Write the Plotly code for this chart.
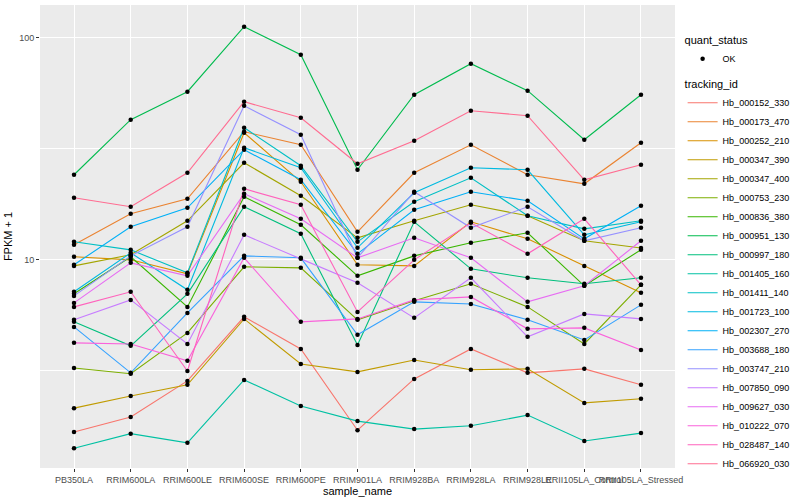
import plotly.graph_objects as go

samples = ["PB350LA", "RRIM600LA", "RRIM600LE", "RRIM600SE", "RRIM600PE", "RRIM901LA",
           "RRIM928BA", "RRIM928LA", "RRIM928LE", "RRII105LA_Control", "RRII105LA_Stressed"]

tracking_ids = ["Hb_000152_330", "Hb_000173_470", "Hb_000252_210", "Hb_000347_390",
                "Hb_000347_400", "Hb_000753_230", "Hb_000836_380", "Hb_000951_130",
                "Hb_000997_180", "Hb_001405_160", "Hb_001411_140", "Hb_001723_100",
                "Hb_002307_270", "Hb_003688_180", "Hb_003747_210", "Hb_007850_090",
                "Hb_009627_030", "Hb_010222_070", "Hb_028487_140", "Hb_066920_030"]

colors = ["#F8766D", "#EA8331", "#D89000", "#C09B00", "#A3A500", "#7CAE00", "#39B600",
          "#00BB4E", "#00BF7D", "#00C1A3", "#00BFC4", "#00BAE0", "#00B0F6", "#35A2FF",
          "#9590FF", "#C77CFF", "#E76BF3", "#FA62DB", "#FF62BC", "#FF6C91"]

Hb_000152_330 = [1.68, 1.96, 2.85, 5.54, 3.97, 1.71, 2.91, 3.97, 3.10, 3.23, 2.74]
Hb_000173_470 = [11.68, 16.12, 18.83, 37.73, 32.96, 13.37, 24.65, 32.96, 24.15, 21.99, 33.65]
Hb_000252_210 = [10.32, 10.00, 8.65, 37.33, 22.46, 9.50, 9.39, 14.83, 12.43, 9.39, 7.10]
Hb_000347_390 = [2.15, 2.44, 2.74, 5.42, 3.40, 3.13, 3.54, 3.20, 3.23, 2.27, 2.37]
Hb_000347_400 = [9.39, 10.53, 14.98, 27.35, 19.43, 12.56, 14.98, 17.69, 15.79, 12.18, 11.30]
Hb_000753_230 = [3.26, 3.07, 4.69, 9.30, 9.20, 5.37, 6.54, 7.80, 6.14, 4.18, 7.72]
Hb_000836_380 = [7.03, 10.32, 6.14, 19.22, 14.38, 8.47, 10.42, 11.93, 13.23, 7.64, 11.10]
Hb_000951_130 = [24.15, 42.72, 57.12, 112.1, 83.83, 25.43, 55.36, 76.36, 57.71, 34.72, 55.36]
Hb_000997_180 = [5.26, 4.10, 7.03, 17.33, 13.10, 4.14, 14.83, 9.11, 8.30, 7.80, 8.30]
Hb_001405_160 = [1.42, 1.65, 1.50, 2.88, 2.20, 1.88, 1.73, 1.79, 2.00, 1.53, 1.66]
Hb_001411_140 = [12.05, 11.09, 8.74, 39.33, 26.51, 12.05, 18.25, 23.41, 15.79, 13.79, 14.98]
Hb_001723_100 = [7.18, 10.75, 7.33, 31.95, 25.97, 11.33, 20.04, 25.97, 25.43, 12.96, 14.83]
Hb_002307_270 = [9.50, 14.08, 17.15, 31.30, 22.93, 10.64, 16.80, 20.25, 18.44, 12.43, 17.51]
Hb_003688_180 = [4.99, 3.10, 5.77, 10.42, 10.21, 4.60, 6.47, 6.33, 5.37, 4.36, 6.27]
Hb_003747_210 = [6.88, 10.42, 14.08, 49.40, 36.56, 10.21, 20.25, 13.94, 17.33, 12.18, 13.94]
Hb_007850_090 = [5.37, 6.60, 4.18, 12.96, 10.10, 7.88, 5.48, 8.30, 4.50, 5.71, 5.42]
Hb_009627_030 = [6.40, 9.69, 8.47, 19.83, 15.30, 10.21, 12.56, 10.21, 6.47, 7.64, 12.18]
Hb_010222_070 = [4.23, 4.18, 3.51, 10.21, 5.26, 5.42, 6.60, 6.81, 4.89, 4.94, 3.93]
Hb_028487_140 = [6.14, 7.18, 3.16, 20.88, 17.69, 5.83, 10.00, 14.68, 10.64, 15.30, 7.72]
Hb_066920_030 = [19.02, 17.33, 24.65, 51.48, 43.62, 27.06, 34.36, 46.90, 44.53, 22.93, 26.79]

series = [Hb_000152_330, Hb_000173_470, Hb_000252_210, Hb_000347_390, Hb_000347_400,
          Hb_000753_230, Hb_000836_380, Hb_000951_130, Hb_000997_180, Hb_001405_160,
          Hb_001411_140, Hb_001723_100, Hb_002307_270, Hb_003688_180, Hb_003747_210,
          Hb_007850_090, Hb_009627_030, Hb_010222_070, Hb_028487_140, Hb_066920_030]

FONT = "Liberation Sans, Arial, sans-serif"

fig = go.Figure()
for name, vals, col in zip(tracking_ids, series, colors):
    fig.add_trace(go.Scatter(x=samples, y=vals, mode="lines", name=name,
                             line=dict(color=col, width=1.1), legend="legend2"))
for name, vals in zip(tracking_ids, series):
    fig.add_trace(go.Scatter(x=samples, y=vals, mode="markers", showlegend=False,
                             marker=dict(color="black", size=4.5, symbol="circle"),
                             hoverinfo="skip"))
fig.add_trace(go.Scatter(x=[None], y=[None], mode="markers", name="OK",
                         marker=dict(color="black", size=4.5), legend="legend"))

fig.update_layout(
    width=800, height=500,
    margin=dict(l=40, r=117, t=5, b=32),
    paper_bgcolor="white", plot_bgcolor="#EBEBEB",
    font=dict(family=FONT, size=9, color="#4D4D4D"),
    xaxis=dict(type="category", range=[-0.6, 10.6], tickangle=0,
               showgrid=True, gridcolor="white", gridwidth=1.1,
               ticks="outside", ticklen=3, tickcolor="#333333", tickwidth=1,
               tickfont=dict(size=9, color="#4D4D4D"), zeroline=False,
               title=dict(text="sample_name", font=dict(size=11, color="black"), standoff=2)),
    yaxis=dict(type="log", range=[0.063, 2.147], tickvals=[10, 100], ticktext=["10", "100"],
               showgrid=True, gridcolor="white", gridwidth=1.1,
               ticks="outside", ticklen=3, tickcolor="#333333", tickwidth=1,
               tickfont=dict(size=9, color="#4D4D4D"), zeroline=False,
               minor=dict(tickvals=[3.1623, 31.623], showgrid=True, gridcolor="white",
                          gridwidth=0.5, ticks=""),
               title=dict(text="FPKM + 1", font=dict(size=11, color="black"), standoff=4)),
    legend=dict(x=1.012, y=0.946, xanchor="left", yanchor="top", itemwidth=30,
                title=dict(text="quant_status", font=dict(size=11, color="black")),
                font=dict(size=9, color="black"), bgcolor="rgba(0,0,0,0)"),
    legend2=dict(x=1.012, y=0.851, xanchor="left", yanchor="top", itemwidth=30,
                 title=dict(text="tracking_id", font=dict(size=11, color="black")),
                 font=dict(size=9, color="black"), bgcolor="rgba(0,0,0,0)",
                 tracegroupgap=0),
    showlegend=True,
)

fig.write_html("out.html", config={"displayModeBar": False},
               post_script="document.body.style.margin='0';")
